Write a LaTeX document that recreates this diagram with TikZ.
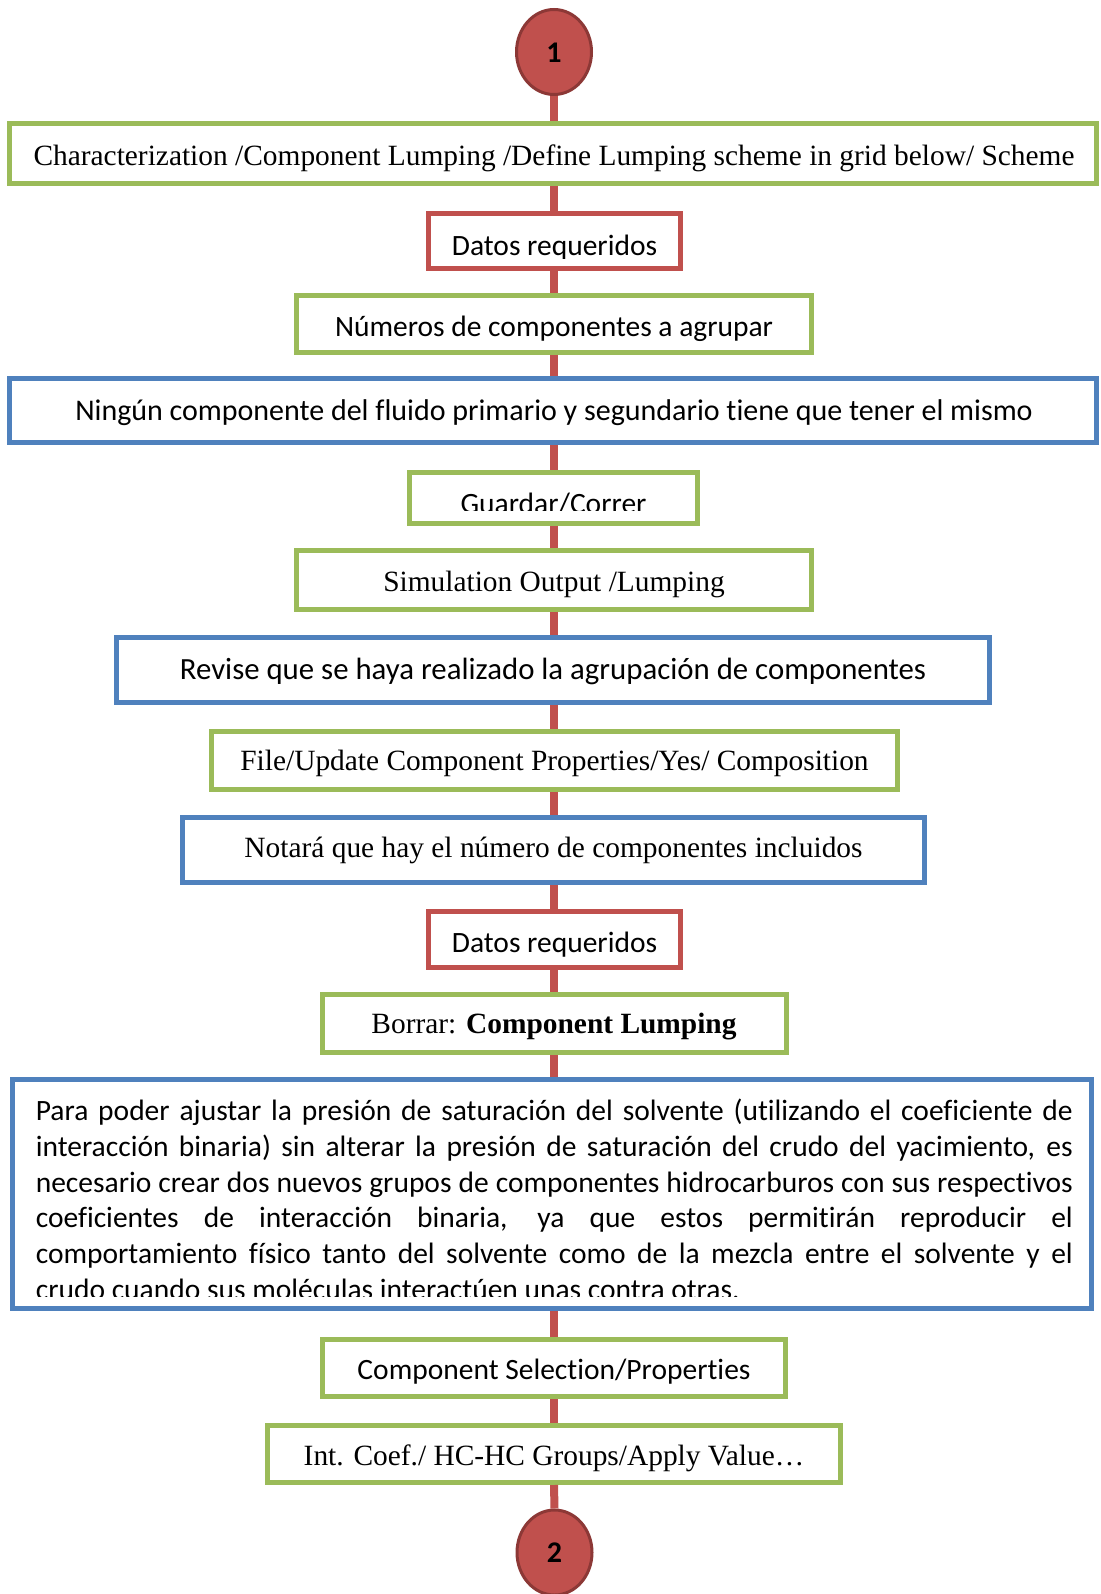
\documentclass[tikz,border=0pt]{standalone}
\usepackage{fontspec}
\setmainfont[Ligatures=NoCommon]{Liberation Serif}
\newfontfamily\calibfont[Ligatures=NoCommon]{Carlito}
\usetikzlibrary{shapes.geometric}
\definecolor{boxgreen}{HTML}{9BBB59}
\definecolor{boxred}{HTML}{C0504D}
\definecolor{boxblue}{HTML}{4F81BD}
\definecolor{rimred}{HTML}{8C3836}
\begin{document}
\begin{tikzpicture}[x=1pt,y=-1pt,
  frame/.style={rectangle, draw, line width=5pt, fill=white, inner sep=0pt},
  gframe/.style={frame, draw=boxgreen},
  rframe/.style={frame, draw=boxred},
  bframe/.style={frame, draw=boxblue},
  serif/.style={anchor=base, inner sep=0pt, font=\fontsize{29.4}{35}\selectfont},
  sans/.style={anchor=base, inner sep=0pt, font=\calibfont\fontsize{29.5}{35}\selectfont},
  disc/.style={ellipse, draw=rimred, fill=boxred, line width=3pt,
    minimum width=75pt, minimum height=85pt, inner sep=0pt},
  disctext/.style={anchor=base, inner sep=0pt, font=\calibfont\bfseries\fontsize{30}{36}\selectfont},
  link/.style={draw=boxred, line width=8pt},
]
\useasboundingbox (0,0) rectangle (1100,1594);
\coordinate (axis) at (554,0);

% start and end markers
\node[disc] (c1) at (554,52) {};
\node[disctext] (n1) at (554,62.7) {1};
\node[disc] (c2) at (554.5,1552.5) {};
\node[disctext] (n2) at (554.5,1562.7) {2};

% boxes
\node[gframe, minimum width=1087pt, minimum height=59.5pt] (b1) at (553,153.75) {};
\node[rframe, minimum width=252pt, minimum height=55.5pt] (b2) at (554.5,241.25) {};
\node[gframe, minimum width=515pt, minimum height=56pt] (b3) at (554,324) {};
\node[bframe, minimum width=1087pt, minimum height=64pt] (b4) at (553,410.5) {};
\node[gframe, minimum width=288pt, minimum height=50.5pt] (b5) at (553.5,497.75) {};
\node[gframe, minimum width=515.5pt, minimum height=58.5pt] (b6) at (553.75,579.75) {};
\node[bframe, minimum width=873pt, minimum height=64.5pt] (b7) at (552.5,669.75) {};
\node[gframe, minimum width=686pt, minimum height=58pt] (b8) at (554.5,760) {};
\node[bframe, minimum width=742pt, minimum height=65pt] (b9) at (553,850) {};
\node[rframe, minimum width=252pt, minimum height=56.5pt] (b10) at (554.5,939.25) {};
\node[gframe, minimum width=464pt, minimum height=58.5pt] (b11) at (554,1023.25) {};
\node[bframe, minimum width=1078.5pt, minimum height=229pt] (b12) at (551.75,1193.5) {};
\node[gframe, minimum width=463pt, minimum height=57pt] (b13) at (554,1368) {};
\node[gframe, minimum width=573pt, minimum height=57pt] (b14) at (554,1454) {};

% connectors along the main axis
\draw[link] (c1.south) -- (b1.north -| axis);
\draw[link] (b1.south -| axis) -- (b2.north -| axis);
\draw[link] (b2.south -| axis) -- (b3.north -| axis);
\draw[link] (b3.south -| axis) -- (b4.north -| axis);
\draw[link] (b4.south -| axis) -- (b5.north -| axis);
\draw[link] (b5.south -| axis) -- (b6.north -| axis);
\draw[link] (b6.south -| axis) -- (b7.north -| axis);
\draw[link] (b7.south -| axis) -- (b8.north -| axis);
\draw[link] (b8.south -| axis) -- (b9.north -| axis);
\draw[link] (b9.south -| axis) -- (b10.north -| axis);
\draw[link] (b10.south -| axis) -- (b11.north -| axis);
\draw[link] (b11.south -| axis) -- (b12.north -| axis);
\draw[link] (b12.south -| axis) -- (b13.north -| axis);
\draw[link] (b13.south -| axis) -- (b14.north -| axis);
\draw[link] (b14.south -| axis) -- (c2.north);

% box texts
\node[serif] (t1) at (554,165.5) {Characterization /Component Lumping /Define Lumping scheme in grid below/ Scheme};
\begin{scope}
  \clip (428.5,213.5) rectangle (680.5,259);
  \node[sans] (t2) at (554.5,256) {Datos requeridos};
\end{scope}
\node[sans] (t3) at (554,336.7) {Números de componentes a agrupar};
\node[sans, font=\calibfont\fontsize{30}{36}\selectfont] (t4) at (554,420.5) {Ningún componente del fluido primario y segundario tiene que tener el mismo};
\begin{scope}
  \clip (409.5,472.5) rectangle (697.5,510.5);
  \node[sans] (t5) at (553.5,513.5) {Guardar/Correr};
\end{scope}
\node[serif] (t6) at (554,591) {Simulation Output /Lumping};
\node[sans, font=\calibfont\fontsize{30.8}{37}\selectfont] (t7) at (553,679.5) {Revise que se haya realizado la agrupación de componentes};
\node[serif] (t8) at (554.5,770.3) {File/Update Component Properties/Yes/ Composition};
\node[serif] (t9) at (553.5,857.7) {Notará que hay el número de componentes incluidos};
\begin{scope}
  \clip (428.5,911) rectangle (680.5,956.5);
  \node[sans] (t10) at (554.5,952.5) {Datos requeridos};
\end{scope}
\node[serif] (t11) at (554,1033.5) {Borrar: \textbf{Component Lumping}};
\begin{scope}
  \clip (12.5,1079) rectangle (1091,1296.5);
  \node[anchor=base west, inner sep=0pt, font=\calibfont\fontsize{29.5}{35.8}\selectfont] (t12) at (35.6,1120.5)
  {\parbox[t]{1037pt}{\baselineskip=35.8pt
    \makebox[\linewidth][s]{Para poder ajustar la presión de saturación del solvente (utilizando el coeficiente de}\\
    \makebox[\linewidth][s]{interacción binaria) sin alterar la presión de saturación del crudo del yacimiento, es}\\
    \makebox[\linewidth][s]{necesario crear dos nuevos grupos de componentes hidrocarburos con sus respectivos}\\
    \makebox[\linewidth][s]{coeficientes de interacción binaria, ya que estos permitirán reproducir el}\\
    \makebox[\linewidth][s]{comportamiento físico tanto del solvente como de la mezcla entre el solvente y el}\\
    crudo cuando sus moléculas interactúen unas contra otras.}};
\end{scope}
\node[sans] (t13) at (554,1379.3) {Component Selection/Properties};
\node[serif] (t14) at (554,1465) {Int. Coef./ HC-HC Groups/Apply Value…};
\end{tikzpicture}
\end{document}
